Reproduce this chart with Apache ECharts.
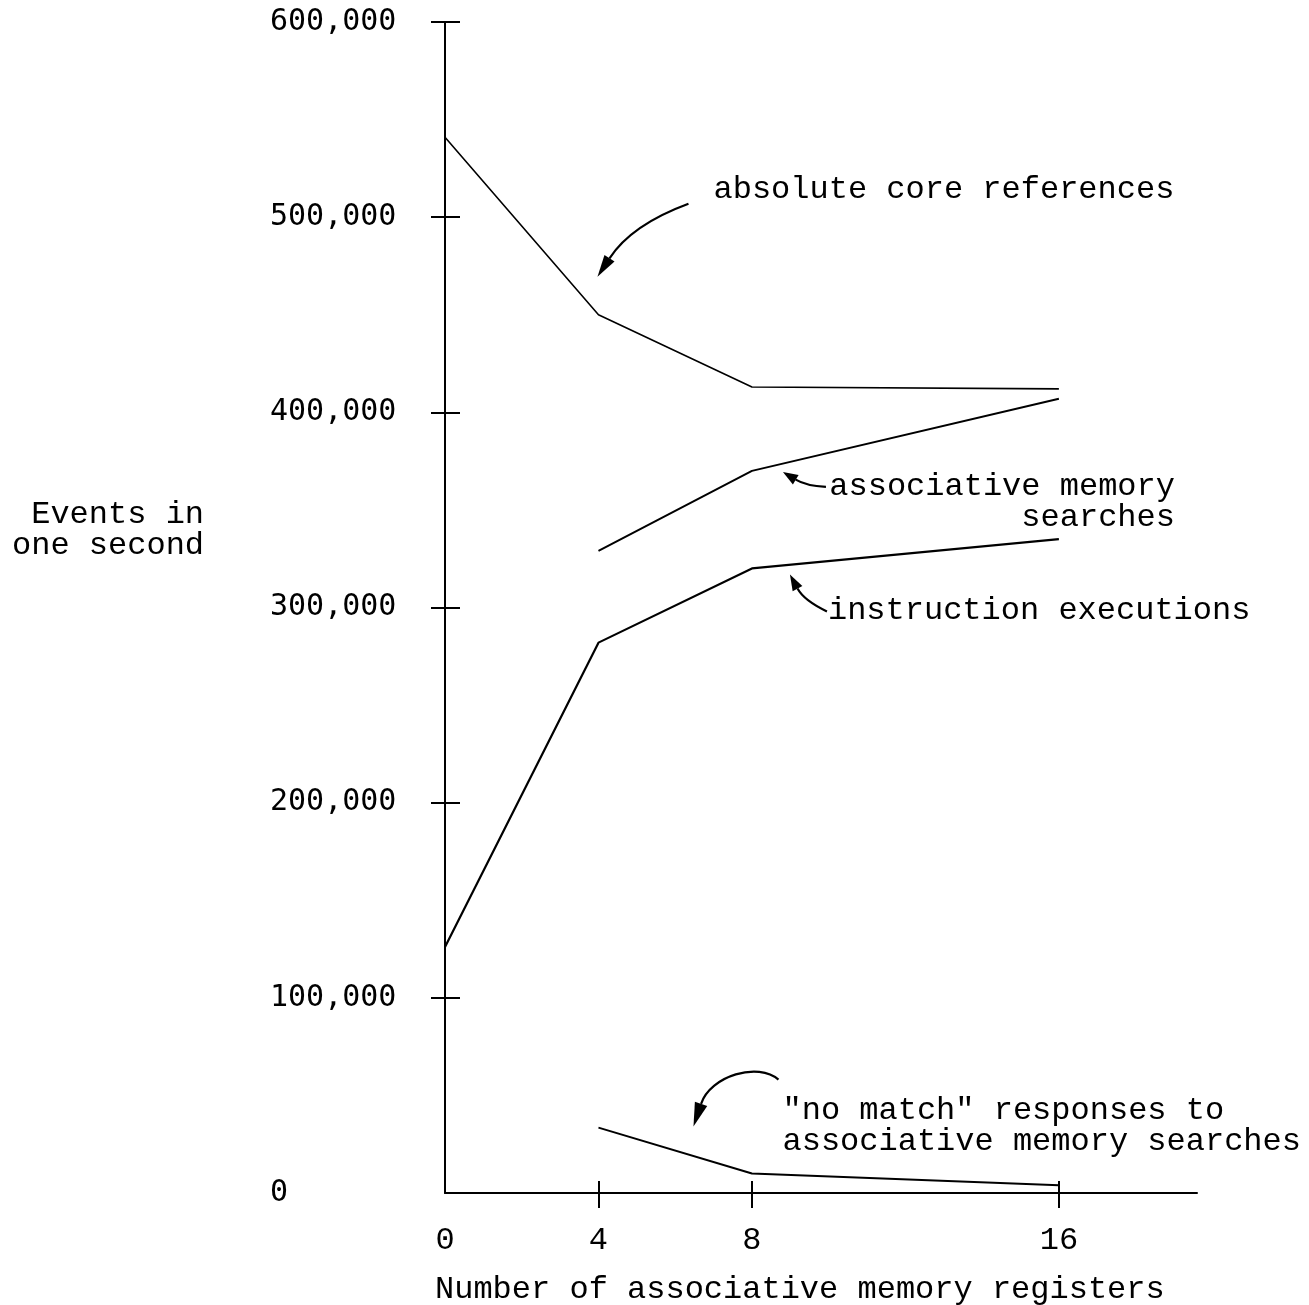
<!DOCTYPE html>
<html>
<head>
<meta charset="utf-8">
<script src="https://cdn.jsdelivr.net/npm/echarts@6/dist/echarts.min.js"></script>
<style>html,body{margin:0;padding:0;background:#fff}#c{width:1309px;height:1305px}</style>
</head>
<body>
<div id="c"></div>
<script>
// ---- data ----
const xValues = [0, 4, 8, 16];
const absoluteCore = [541000, 450000, 413000, 412000];
const assocSearches = [null, 329000, 370000, 407000];
const instructionExec = [126000, 282000, 320000, 335000];
const noMatch = [null, 33500, 10000, 4000];
const yTickValues = [100000, 200000, 300000, 400000, 500000, 600000];
const yLabelValues = [0, 100000, 200000, 300000, 400000, 500000, 600000];
const xTickValues = [4, 8, 16];
const xLabelValues = [0, 4, 8, 16];
const xTitle = 'Number of associative memory registers';
const yTitle = ' Events in\none second';

const MONO = '"Liberation Mono", "Courier New", monospace';
const SANSMONO = '"DejaVu Sans Mono", monospace';

function pairs(vals) { return xValues.map((x, i) => [x, vals[i]]); }

const chart = echarts.init(document.getElementById('c'), null, {renderer: 'canvas'});

const baseY = {
  type: 'value', min: 0, max: 600000, interval: 100000, position: 'left',
  splitLine: {show: false}
};
const baseX = {
  type: 'value', min: 0, max: 19.6, position: 'bottom', splitLine: {show: false}
};

chart.setOption({
  animation: false,
  backgroundColor: '#fff',
  grid: {left: 445, right: 112, top: 22, bottom: 112, containLabel: false, outerBoundsMode: 'none'},
  xAxis: [
    Object.assign({}, baseX, {
      axisLine: {show: true, onZero: false, lineStyle: {color: '#000', width: 2}},
      axisTick: {show: true, inside: false, length: 15, lineStyle: {color: '#000', width: 2}, customValues: xTickValues},
      axisLabel: {show: true, margin: 32, color: '#000', fontFamily: MONO, fontSize: 32, customValues: xLabelValues,
        formatter: v => String(v)}
    }),
    Object.assign({}, baseX, {
      axisLine: {show: false, onZero: false},
      axisTick: {show: true, inside: true, length: 12, lineStyle: {color: '#000', width: 2}, customValues: xTickValues},
      axisLabel: {show: false}
    })
  ],
  yAxis: [
    Object.assign({}, baseY, {
      axisLine: {show: true, onZero: false, lineStyle: {color: '#000', width: 2}},
      axisTick: {show: true, inside: false, length: 14, lineStyle: {color: '#000', width: 2}, customValues: yTickValues},
      axisLabel: {show: true, margin: 175, align: 'left', color: '#000', fontFamily: SANSMONO, fontSize: 30,
        padding: [7, 0, 0, 0],
        customValues: yLabelValues, formatter: v => Number(v).toLocaleString('en-US')}
    }),
    Object.assign({}, baseY, {
      axisLine: {show: false, onZero: false},
      axisTick: {show: true, inside: true, length: 15, lineStyle: {color: '#000', width: 2}, customValues: yTickValues},
      axisLabel: {show: false}
    })
  ],
  series: [
    {name: 'absolute core references', type: 'line', data: pairs(absoluteCore), symbol: 'none',
      lineStyle: {color: '#000', width: 1.6}},
    {name: 'associative memory searches', type: 'line', data: pairs(assocSearches), symbol: 'none',
      lineStyle: {color: '#000', width: 2}},
    {name: 'instruction executions', type: 'line', data: pairs(instructionExec), symbol: 'none',
      lineStyle: {color: '#000', width: 2.2}},
    {name: '"no match" responses', type: 'line', data: pairs(noMatch), symbol: 'none',
      lineStyle: {color: '#000', width: 2}}
  ]
});

// ---- annotations anchored to data points (pixel offsets from anchor) ----
const annotations = [
  {series: absoluteCore, idx: 1, text: 'absolute core references', tx: 115, ty: -125, align: 'left',
    tail: [90, -111], c1: [33, -90], c2: null, tip: [-1, -38], hl: 22, hw: 12},
  {series: assocSearches, idx: 2, text: 'associative memory\nsearches', tx: 423, ty: 16, align: 'right',
    tail: [74, 16], c1: [54, 15], c2: null, tip: [31, 1], hl: 15, hw: 11},
  {series: instructionExec, idx: 2, text: 'instruction executions', tx: 76, ty: 43, align: 'left',
    tail: [75, 43], c1: [52, 32], c2: null, tip: [38, 6], hl: 16, hw: 11},
  {series: noMatch, idx: 1, text: '"no match" responses to\nassociative memory searches', tx: 184, ty: -17, align: 'left',
    tail: [180, -48], c1: [160, -66], c2: [112, -52], tip: [95, -1], hl: 24, hw: 13}
];

function buildGraphics() {
  const els = [];
  annotations.forEach(a => {
    const p = chart.convertToPixel({gridIndex: 0}, [xValues[a.idx], a.series[a.idx]]);
    const P = o => [p[0] + o[0], p[1] + o[1]];
    const t0 = P(a.tail), c1 = P(a.c1), tip = P(a.tip);
    const c2 = a.c2 ? P(a.c2) : null;
    const last = c2 || c1;
    let dx = tip[0] - last[0], dy = tip[1] - last[1];
    const d = Math.hypot(dx, dy); dx /= d; dy /= d;
    const base = [tip[0] - dx * a.hl, tip[1] - dy * a.hl];
    const nx = -dy, ny = dx;
    const shape = {x1: t0[0], y1: t0[1], x2: base[0], y2: base[1], cpx1: c1[0], cpy1: c1[1]};
    if (c2) { shape.cpx2 = c2[0]; shape.cpy2 = c2[1]; }
    els.push({type: 'bezierCurve', shape: shape, style: {stroke: '#000', lineWidth: 2.2, fill: null}, silent: true});
    els.push({type: 'polygon', shape: {points: [tip,
      [base[0] + nx * a.hw / 2, base[1] + ny * a.hw / 2],
      [base[0] - nx * a.hw / 2, base[1] - ny * a.hw / 2]]},
      style: {fill: '#000'}, silent: true});
    const tp = P([a.tx, a.ty]);
    els.push({type: 'text', x: tp[0], y: tp[1] - 16, silent: true,
      style: {text: a.text, font: '32px ' + MONO, fill: '#000', lineHeight: 31,
        align: a.align, textAlign: a.align, verticalAlign: 'top', textVerticalAlign: 'top'}});
  });
  return els;
}

const g = buildGraphics();
// axis titles
g.push({type: 'text', x: 435, y: 1274, silent: true,
  style: {text: xTitle, font: '32px ' + MONO, fill: '#000', align: 'left', textAlign: 'left', verticalAlign: 'top', textVerticalAlign: 'top'}});
g.push({type: 'text', x: 12, y: 499, silent: true,
  style: {text: yTitle, font: '32px ' + MONO, fill: '#000', lineHeight: 31, align: 'left', textAlign: 'left', verticalAlign: 'top', textVerticalAlign: 'top'}});
chart.setOption({graphic: {elements: g}});
</script>
</body>
</html>
